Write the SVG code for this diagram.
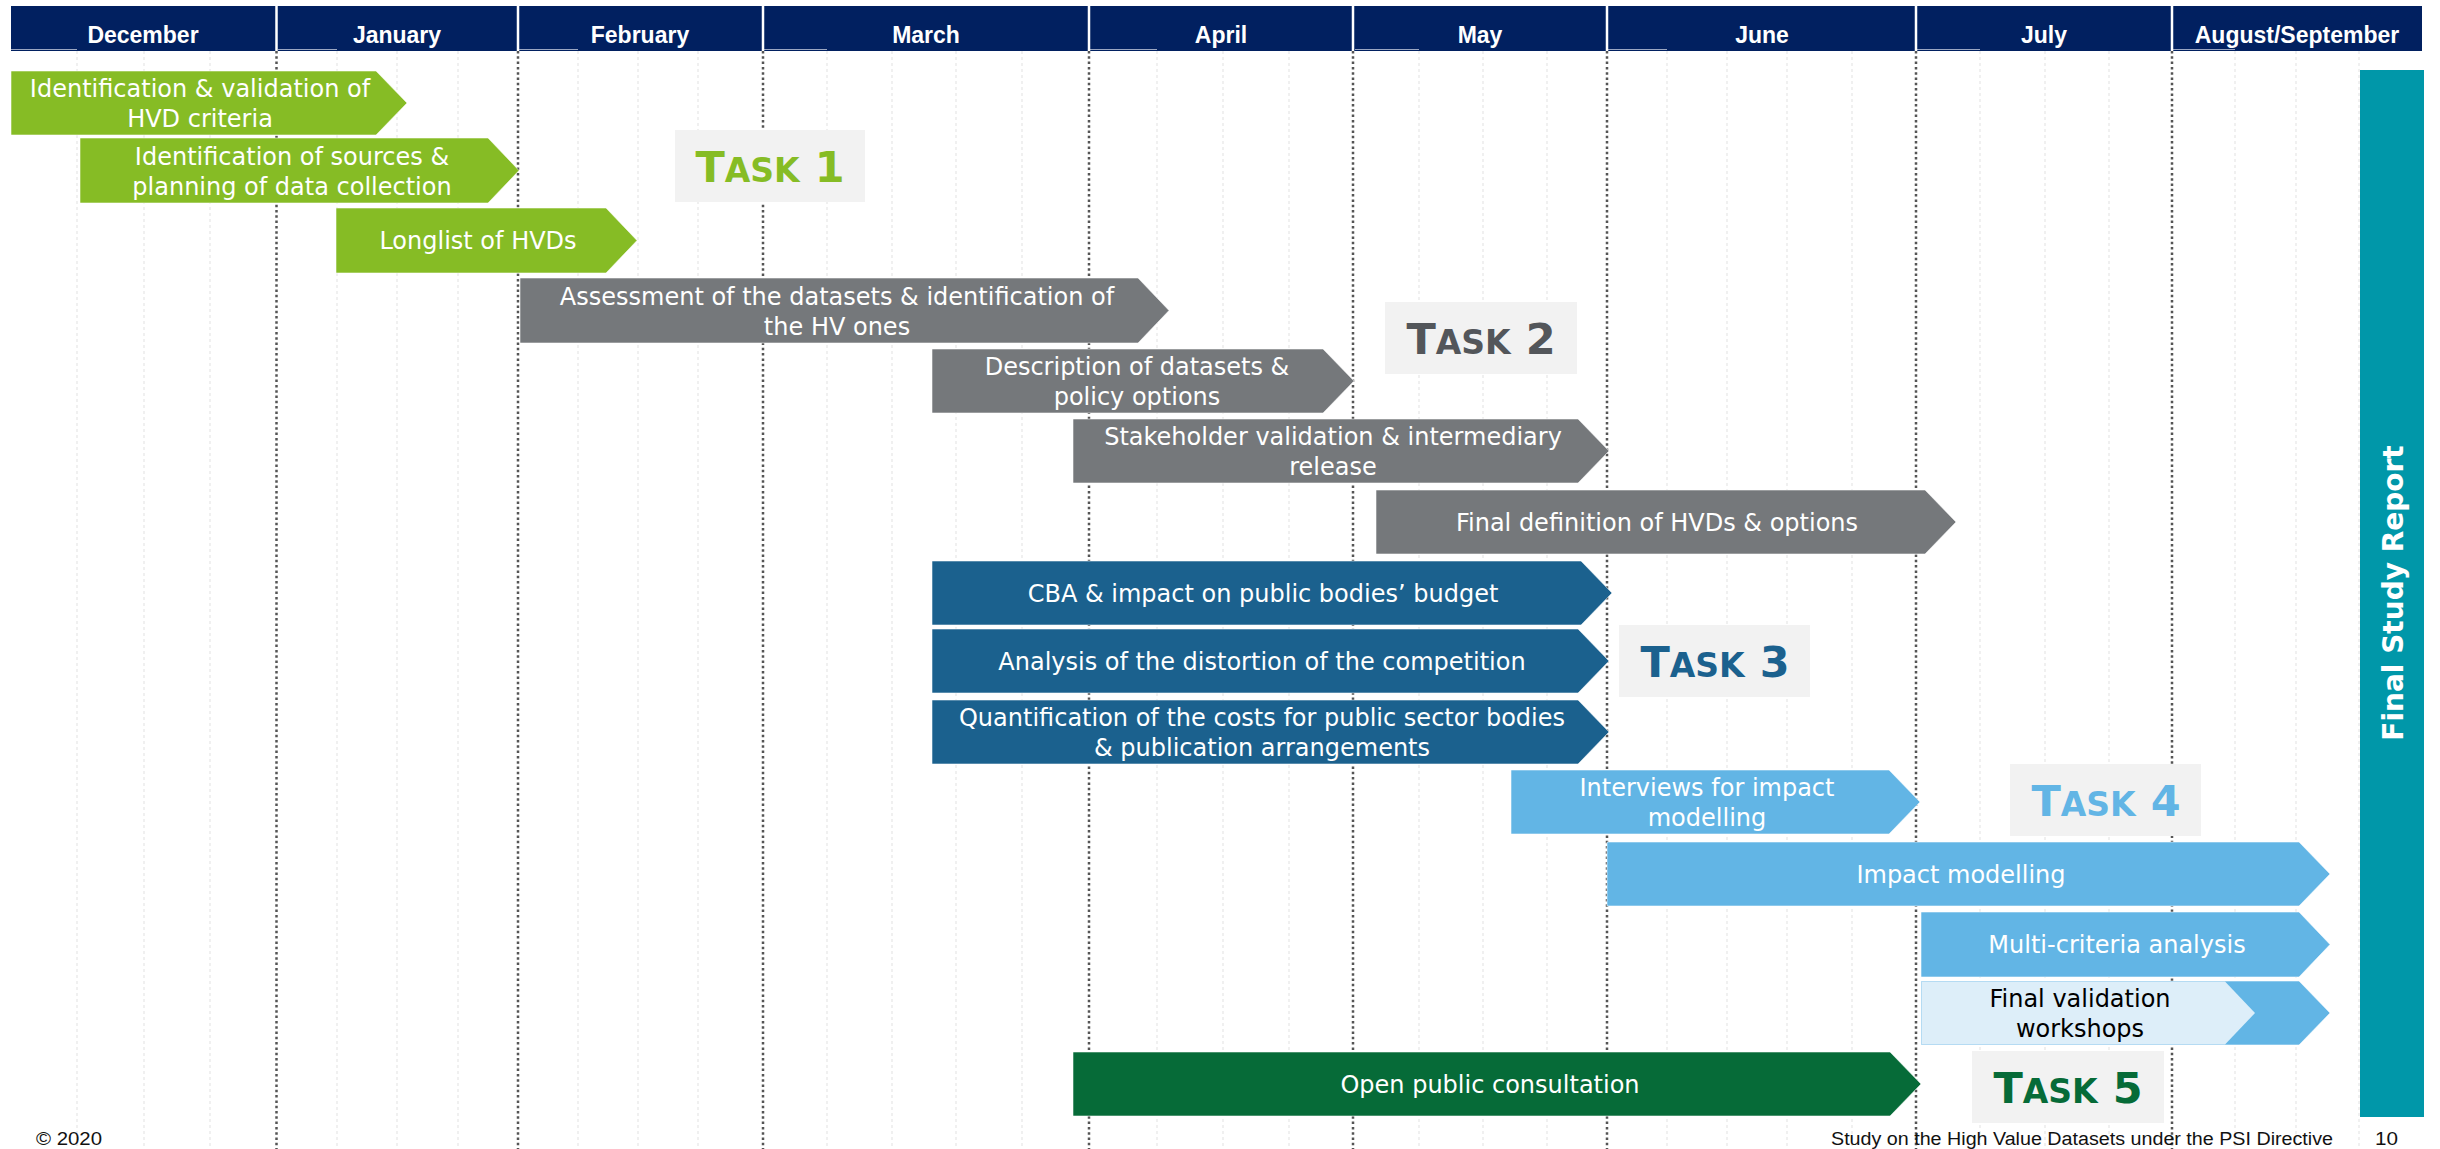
<svg xmlns="http://www.w3.org/2000/svg" width="2440" height="1149" viewBox="0 0 2440 1149">
<style>
.bg{fill:#ffffff}
.hdr{fill:#012060}
.sep{stroke:#ffffff;stroke-width:2.5}
.hl{stroke:#9aa6c2;stroke-width:1}
.mon{font-family:"Liberation Sans",Arial,sans-serif;font-weight:bold;font-size:23px;fill:#ffffff;text-anchor:middle}
.wk{stroke:#ebebeb;stroke-width:1.5;stroke-dasharray:3 3;fill:none}
.mo{stroke:#555555;stroke-width:2.5;stroke-dasharray:2.5 2.8;fill:none}
.bar{stroke:#ffffff;stroke-opacity:0.55;stroke-width:1}
.g1{fill:#86bc25}
.g2{fill:#75787b}
.g3{fill:#1b618e}
.g4{fill:#62b5e5}
.g4p{fill:#ddeef9}
.g5{fill:#066b38}
.lbl{font-family:"DejaVu Sans",Verdana,sans-serif;font-size:24px;fill:#ffffff;text-anchor:middle}
.dark{fill:#000000}
.tbox{fill:#f2f2f2}
.task{font-family:"DejaVu Sans",Verdana,sans-serif;font-weight:bold;text-anchor:middle}
.big{font-size:43px}
.sm{font-size:33px}
.foot{font-family:"Liberation Sans",Arial,sans-serif;font-size:18px;fill:#111111}
</style>
<rect class="bg" x="0" y="0" width="2440" height="1149"/>

<g id="grid">
  <g class="wk">
    <line x1="77" y1="51" x2="77" y2="1149"/><line x1="144" y1="51" x2="144" y2="1149"/><line x1="210" y1="51" x2="210" y2="1149"/>
    <line x1="337" y1="51" x2="337" y2="1149"/><line x1="397" y1="51" x2="397" y2="1149"/><line x1="458" y1="51" x2="458" y2="1149"/>
    <line x1="578" y1="51" x2="578" y2="1149"/><line x1="638" y1="51" x2="638" y2="1149"/><line x1="698" y1="51" x2="698" y2="1149"/>
    <line x1="827" y1="51" x2="827" y2="1149"/><line x1="892" y1="51" x2="892" y2="1149"/><line x1="956" y1="51" x2="956" y2="1149"/><line x1="1022" y1="51" x2="1022" y2="1149"/>
    <line x1="1157" y1="51" x2="1157" y2="1149"/><line x1="1223" y1="51" x2="1223" y2="1149"/><line x1="1289" y1="51" x2="1289" y2="1149"/>
    <line x1="1419" y1="51" x2="1419" y2="1149"/><line x1="1483" y1="51" x2="1483" y2="1149"/><line x1="1547" y1="51" x2="1547" y2="1149"/>
    <line x1="1667" y1="51" x2="1667" y2="1149"/><line x1="1727" y1="51" x2="1727" y2="1149"/><line x1="1787" y1="51" x2="1787" y2="1149"/><line x1="1852" y1="51" x2="1852" y2="1149"/>
    <line x1="1980" y1="51" x2="1980" y2="1149"/><line x1="2045" y1="51" x2="2045" y2="1149"/><line x1="2109" y1="51" x2="2109" y2="1149"/>
    <line x1="2235" y1="51" x2="2235" y2="1149"/><line x1="2296" y1="51" x2="2296" y2="1149"/><line x1="2359" y1="51" x2="2359" y2="1149"/>
  </g>
  <g class="mo">
    <line x1="276.5" y1="51" x2="276.5" y2="1149"/>
    <line x1="518" y1="51" x2="518" y2="1149"/>
    <line x1="763" y1="51" x2="763" y2="1149"/>
    <line x1="1089" y1="51" x2="1089" y2="1149"/>
    <line x1="1353" y1="51" x2="1353" y2="1149"/>
    <line x1="1607" y1="51" x2="1607" y2="1149"/>
    <line x1="1916" y1="51" x2="1916" y2="1149"/>
    <line x1="2172" y1="51" x2="2172" y2="1149"/>
  </g>
</g>

<g id="header">
  <rect class="hdr" x="11" y="6" width="2411" height="45"/>
  <g class="hl">
    <line x1="11" y1="49.5" x2="77" y2="49.5"/><line x1="278" y1="49.5" x2="337" y2="49.5"/><line x1="519" y1="49.5" x2="578" y2="49.5"/>
    <line x1="764" y1="49.5" x2="827" y2="49.5"/><line x1="1090" y1="49.5" x2="1157" y2="49.5"/><line x1="1355" y1="49.5" x2="1419" y2="49.5"/>
    <line x1="1608" y1="49.5" x2="1667" y2="49.5"/><line x1="1917" y1="49.5" x2="1980" y2="49.5"/><line x1="2173" y1="49.5" x2="2235" y2="49.5"/>
  </g>
  <g class="sep">
    <line x1="276.5" y1="6" x2="276.5" y2="51"/><line x1="518" y1="6" x2="518" y2="51"/><line x1="763" y1="6" x2="763" y2="51"/>
    <line x1="1089" y1="6" x2="1089" y2="51"/><line x1="1353" y1="6" x2="1353" y2="51"/><line x1="1607" y1="6" x2="1607" y2="51"/>
    <line x1="1916" y1="6" x2="1916" y2="51"/><line x1="2172" y1="6" x2="2172" y2="51"/>
  </g>
  <text class="mon" x="143" y="43">December</text>
  <text class="mon" x="397" y="43">January</text>
  <text class="mon" x="640" y="43">February</text>
  <text class="mon" x="926" y="43">March</text>
  <text class="mon" x="1221" y="43">April</text>
  <text class="mon" x="1480" y="43">May</text>
  <text class="mon" x="1762" y="43">June</text>
  <text class="mon" x="2044" y="43">July</text>
  <text class="mon" x="2297" y="43">August/September</text>
</g>

<g id="bar1"><polygon class="bar g1" points="11,71 376,71 407,103 376,135 11,135"/>
  <text class="lbl" x="200" y="97">Identification &amp; validation of</text><text class="lbl" x="200" y="127">HVD criteria</text></g>
<g id="bar2"><polygon class="bar g1" points="80,138 488,138 519,170.5 488,203 80,203"/>
  <text class="lbl" x="292" y="165">Identification of sources &amp;</text><text class="lbl" x="292" y="195">planning of data collection</text></g>
<g id="bar3"><polygon class="bar g1" points="336,208 606,208 637,240.5 606,273 336,273"/>
  <text class="lbl" x="478" y="249">Longlist of HVDs</text></g>

<g id="bar4"><polygon class="bar g2" points="520,278 1138,278 1169,310.5 1138,343 520,343"/>
  <text class="lbl" x="837" y="304.5">Assessment of the datasets &amp; identification of</text><text class="lbl" x="837" y="334.5">the HV ones</text></g>
<g id="bar5"><polygon class="bar g2" points="932,349 1323,349 1354,381 1323,413 932,413"/>
  <text class="lbl" x="1137" y="375">Description of datasets &amp;</text><text class="lbl" x="1137" y="405">policy options</text></g>
<g id="bar6"><polygon class="bar g2" points="1073,419 1578,419 1609,451 1578,483 1073,483"/>
  <text class="lbl" x="1333" y="445">Stakeholder validation &amp; intermediary</text><text class="lbl" x="1333" y="475">release</text></g>
<g id="bar7"><polygon class="bar g2" points="1376,490 1925,490 1956,522 1925,554 1376,554"/>
  <text class="lbl" x="1657" y="530.5">Final definition of HVDs &amp; options</text></g>

<g id="bar8"><polygon class="bar g3" points="932,561 1581,561 1612,593 1581,625 932,625"/>
  <text class="lbl" x="1263" y="601.5">CBA &amp; impact on public bodies’ budget</text></g>
<g id="bar9"><polygon class="bar g3" points="932,629 1578,629 1609,661 1578,693 932,693"/>
  <text class="lbl" x="1262" y="669.5">Analysis of the distortion of the competition</text></g>
<g id="bar10"><polygon class="bar g3" points="932,700 1578,700 1609,732 1578,764 932,764"/>
  <text class="lbl" x="1262" y="726">Quantification of the costs for public sector bodies</text><text class="lbl" x="1262" y="756">&amp; publication arrangements</text></g>

<g id="bar11"><polygon class="bar g4" points="1511,770 1889,770 1920,802 1889,834 1511,834"/>
  <text class="lbl" x="1707" y="796">Interviews for impact</text><text class="lbl" x="1707" y="826">modelling</text></g>
<g id="bar12"><polygon class="bar g4" points="1607,842 2299,842 2330,874 2299,906 1607,906"/>
  <text class="lbl" x="1961" y="882.5">Impact modelling</text></g>
<g id="bar13"><polygon class="bar g4" points="1921,912 2299,912 2330,944.5 2299,977 1921,977"/>
  <text class="lbl" x="2117" y="953">Multi-criteria analysis</text></g>
<g id="bar14"><polygon class="bar g4" points="1921,981 2299,981 2330,1013 2299,1045 1921,1045"/>
  <polygon class="g4p" points="1921.5,981.5 2225,981.5 2255,1013 2225,1044.5 1921.5,1044.5"/>
  <text class="lbl dark" x="2080" y="1007">Final validation</text><text class="lbl dark" x="2080" y="1037">workshops</text></g>

<g id="bar15"><polygon class="bar g5" points="1073,1052 1890,1052 1921,1084 1890,1116 1073,1116"/>
  <text class="lbl" x="1490" y="1092.5">Open public consultation</text></g>

<g id="task1"><rect class="tbox" x="675" y="130" width="190" height="72"/>
  <text class="task" x="770" y="182" fill="#86bc25"><tspan class="big">T</tspan><tspan class="sm">ASK</tspan><tspan class="big"> 1</tspan></text></g>
<g id="task2"><rect class="tbox" x="1385" y="302" width="192" height="72"/>
  <text class="task" x="1481" y="354" fill="#53565a"><tspan class="big">T</tspan><tspan class="sm">ASK</tspan><tspan class="big"> 2</tspan></text></g>
<g id="task3"><rect class="tbox" x="1619" y="625" width="191" height="72"/>
  <text class="task" x="1715" y="677" fill="#1b618e"><tspan class="big">T</tspan><tspan class="sm">ASK</tspan><tspan class="big"> 3</tspan></text></g>
<g id="task4"><rect class="tbox" x="2010" y="764" width="191" height="72"/>
  <text class="task" x="2106" y="816" fill="#62b5e5"><tspan class="big">T</tspan><tspan class="sm">ASK</tspan><tspan class="big"> 4</tspan></text></g>
<g id="task5"><rect class="tbox" x="1972" y="1051" width="192" height="72"/>
  <text class="task" x="2068" y="1103" fill="#066b38"><tspan class="big">T</tspan><tspan class="sm">ASK</tspan><tspan class="big"> 5</tspan></text></g>

<g id="final-report"><rect x="2360" y="70" width="64" height="1047" fill="#0097a9"/>
  <text transform="translate(2403,593) rotate(-90)" x="0" y="0" font-family="'DejaVu Sans',Verdana,sans-serif" font-weight="bold" font-size="28" fill="#ffffff" text-anchor="middle">Final Study Report</text></g>

<g id="connectors"/>

<g id="footer">
  <text class="foot" x="36" y="1145" textLength="66" lengthAdjust="spacingAndGlyphs">© 2020</text>
  <text class="foot" x="1831" y="1145" textLength="502" lengthAdjust="spacingAndGlyphs">Study on the High Value Datasets under the PSI Directive</text>
  <text class="foot" x="2375" y="1145" textLength="23" lengthAdjust="spacingAndGlyphs">10</text>
</g>
</svg>
